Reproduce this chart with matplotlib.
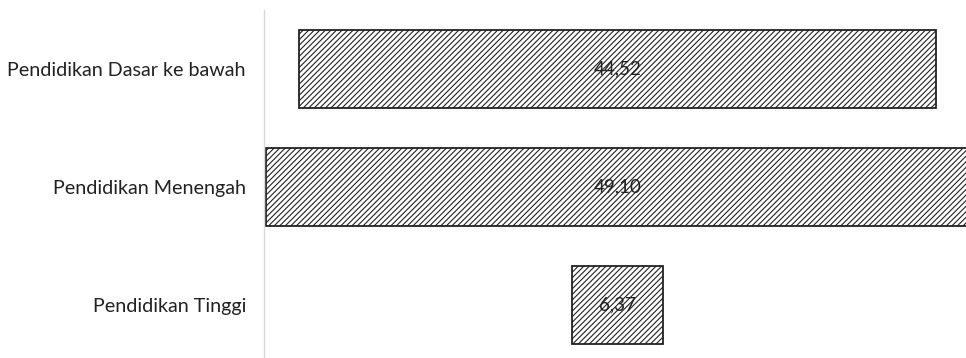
import matplotlib
matplotlib.use("Agg")
import matplotlib.pyplot as plt

categories = ["Pendidikan Tinggi", "Pendidikan Menengah", "Pendidikan Dasar ke bawah"]
values = [6.37, 49.10, 44.52]

plt.rcParams['font.family'] = ['Lato', 'DejaVu Sans']
plt.rcParams['hatch.color'] = '#9a9a9a'
plt.rcParams['hatch.linewidth'] = 0.8

fig = plt.figure(figsize=(9.66, 3.58), dpi=100)
ax = fig.add_axes([264 / 966, 0, 1 - 264 / 966, 348 / 358])

ys = range(len(categories))
lefts = [-v / 2 for v in values]
ax.barh(ys, values, left=lefts, height=0.66, color='white',
        edgecolor='#222222', linewidth=1.3, hatch='//////')

for y, v in zip(ys, values):
    ax.text(0, y, "{:.2f}".format(v).replace('.', ','), ha='center', va='center',
            fontsize=13.5, color='#222222')

ax.set_xlim(-24.69, 24.34)
ax.set_ylim(-0.45, 2.5)
ax.set_yticks(list(ys))
ax.set_yticklabels(categories, fontsize=14.2, color='#222222')
ax.tick_params(axis='y', length=0, pad=13)
ax.set_xticks([])
for s in ['top', 'right', 'bottom']:
    ax.spines[s].set_visible(False)
ax.spines['left'].set_color('#d9d9d9')
ax.spines['left'].set_linewidth(1.0)

fig.savefig("out.png", dpi=100)
